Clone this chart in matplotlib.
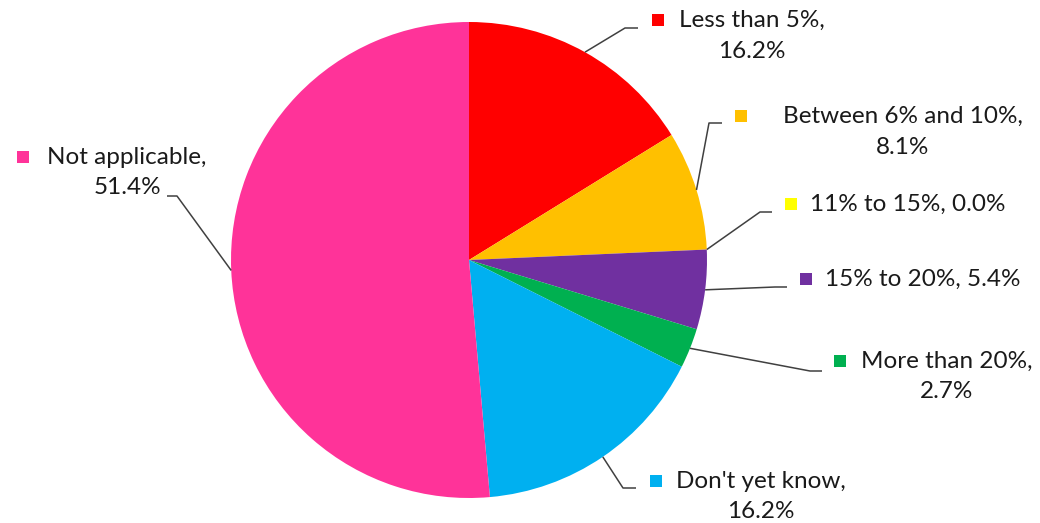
import numpy as np
import matplotlib
matplotlib.use("Agg")
import matplotlib.pyplot as plt

# data
categories = ["Less than 5%", "Between 6% and 10%", "11% to 15%", "15% to 20%",
              "More than 20%", "Don't yet know", "Not applicable"]
shares = [16.2, 8.1, 0.0, 5.4, 2.7, 16.2, 51.4]
colors = ["#FF0000", "#FFC000", "#FFFF00", "#7030A0", "#00B050", "#00B0F0", "#FF3399"]

# label layout in image pixels: marker x/y, text centre x, elbow x/y, end x, two lines?
marker_xy = [(658, 20), (741, 116), (791, 204), (806, 279), (840, 361), (656, 481), (23, 157)]
text_cx = [752, 903, 908, 923, 947, 761, 127]
elbow_xy = [(625, 28), (709, 123), (760, 212), (775, 287), (810, 371), (623, 488), (177, 196)]
end_x = [638, 722, 772, 787, 822, 636, 167]
two_lines = [True, True, False, False, True, True, True]

W, H = 1040, 523
CX, CY, R = 469, 260, 238


def Y(y):
    return H - y


fig = plt.figure(figsize=(W / 100, H / 100), dpi=100)
ax = fig.add_axes([0, 0, 1, 1])

wedges, _ = ax.pie(shares, colors=colors, startangle=90, counterclock=False,
                   center=(CX, Y(CY)), radius=R, wedgeprops=dict(linewidth=0),
                   frame=True)
ax.set_xlim(0, W)
ax.set_ylim(0, H)
ax.set_aspect("equal")
ax.axis("off")

txt_color = "#1a1a1a"
font = dict(family=["Lato", "DejaVu Sans"], fontsize=17.5, color=txt_color)

for i, w in enumerate(wedges):
    mid = np.deg2rad((w.theta1 + w.theta2) / 2)
    ax_x = CX + R * np.cos(mid)
    ax_y = Y(CY) + R * np.sin(mid)
    ex, ey = elbow_xy[i]
    ax.plot([ax_x, ex, end_x[i]], [ax_y, Y(ey), Y(ey)], color="#404040", lw=1.1,
            solid_capstyle="butt")

    mx, my = marker_xy[i]
    ax.scatter([mx], [Y(my)], marker="s", s=85, color=colors[i], linewidths=0)

    pct = f"{shares[i]:.1f}%"
    if two_lines[i]:
        ax.text(text_cx[i], Y(my), categories[i] + ",", ha="center", va="center", **font)
        ax.text(text_cx[i], Y(my + 31), pct, ha="center", va="center", **font)
    else:
        ax.text(text_cx[i], Y(my), f"{categories[i]}, {pct}", ha="center", va="center", **font)

fig.savefig("out.png", dpi=100, facecolor="white")
